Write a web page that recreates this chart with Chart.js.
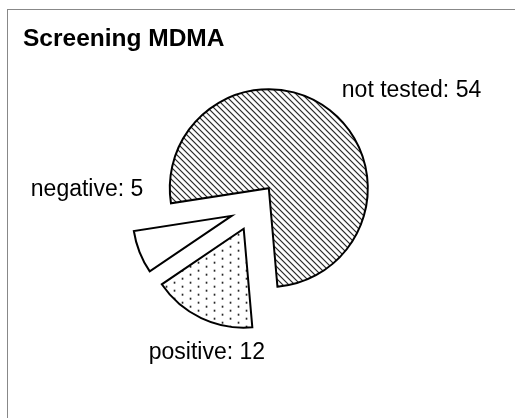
<!DOCTYPE html>
<html>
<head>
<meta charset="utf-8">
<script src="https://cdn.jsdelivr.net/npm/chart.js@4.4.1/dist/chart.umd.min.js"></script>
<style>
  html, body { margin: 0; padding: 0; background: #fff; }
  #wrap { position: relative; width: 515px; height: 418px; overflow: hidden; }
  #frame { position: absolute; left: 7px; top: 9px; width: 600px; height: 500px; border: 1px solid #888; }
  #chart { position: absolute; left: 0; top: 0; }
</style>
</head>
<body>
<div id="wrap">
  <div id="frame"></div>
  <canvas id="chart" width="515" height="418"></canvas>
</div>
<script>
const chartTitle = 'Screening MDMA';
const categories = ['positive', 'negative', 'not tested'];
const counts = [12, 5, 54];

// where each label sits, relative to the pie centre (degrees, multiple of radius)
const labelSpots = [
    { angle: 107.2, dist: 1.61 },
    { angle: 183.8, dist: 1.69 },
    { angle: -34.9, dist: 1.94 }
];
const explodePx = 24;

const canvas = document.getElementById('chart');
const ctx = canvas.getContext('2d');

function makePattern(w, h, paint) {
    const c = document.createElement('canvas');
    c.width = w;
    c.height = h;
    const g = c.getContext('2d');
    g.fillStyle = '#ffffff';
    g.fillRect(0, 0, w, h);
    paint(g);
    return ctx.createPattern(c, 'repeat');
}

// diagonal hatch going down to the right
const hatch = makePattern(6, 6, g => {
    for (let i = 0; i < 6; i++) {
        g.fillStyle = '#000000';
        g.fillRect(i, i, 1, 1);
        g.fillStyle = '#9a9a9a';
        g.fillRect((i + 1) % 6, i, 1, 1);
    }
});

// sparse staggered dots
const dots = makePattern(16, 8, g => {
    g.fillStyle = '#000000';
    g.fillRect(0, 0, 1, 2);
    g.fillRect(8, 4, 1, 2);
    g.fillStyle = '#999999';
    g.fillRect(1, 0, 1, 2);
    g.fillRect(9, 4, 1, 2);
});

// draw every slice pulled out from the centre along its middle angle
const explodePlugin = {
    id: 'explode',
    beforeDatasetDraw(chart, args) {
        const c = chart.ctx;
        args.meta.data.forEach(arc => {
            const mid = (arc.startAngle + arc.endAngle) / 2;
            c.save();
            c.translate(Math.cos(mid) * explodePx, Math.sin(mid) * explodePx);
            arc.draw(c);
            c.restore();
        });
        return false;
    }
};

const sliceLabels = {
    id: 'sliceLabels',
    afterDatasetsDraw(chart) {
        const c = chart.ctx;
        const meta = chart.getDatasetMeta(0);
        c.save();
        c.font = '23px "Liberation Sans", Arial, sans-serif';
        c.fillStyle = '#000000';
        c.textAlign = 'center';
        c.textBaseline = 'alphabetic';
        meta.data.forEach((arc, i) => {
            const spot = labelSpots[i];
            const a = spot.angle * Math.PI / 180;
            const r = arc.outerRadius * spot.dist;
            c.fillText(categories[i] + ': ' + counts[i], arc.x + Math.cos(a) * r, arc.y + Math.sin(a) * r);
        });
        c.restore();
    }
};

new Chart(ctx, {
    type: 'pie',
    data: {
        labels: categories,
        datasets: [{
            data: counts,
            backgroundColor: [dots, '#ffffff', hatch],
            borderColor: '#000000',
            borderWidth: 2,
            borderJoinStyle: 'miter',
            rotation: 175,
            radius: 99
        }]
    },
    options: {
        responsive: false,
        animation: false,
        layout: {
            padding: { left: 23, right: 30, top: 0, bottom: 68 }
        },
        plugins: {
            legend: { display: false },
            tooltip: { enabled: false },
            title: {
                display: true,
                text: chartTitle,
                align: 'start',
                color: '#000000',
                font: { family: '"Liberation Sans", Arial, sans-serif', size: 24.5, weight: 'bold', lineHeight: 1.2 },
                padding: { top: 24.7, bottom: 10 }
            }
        }
    },
    plugins: [explodePlugin, sliceLabels]
});
</script>
</body>
</html>
